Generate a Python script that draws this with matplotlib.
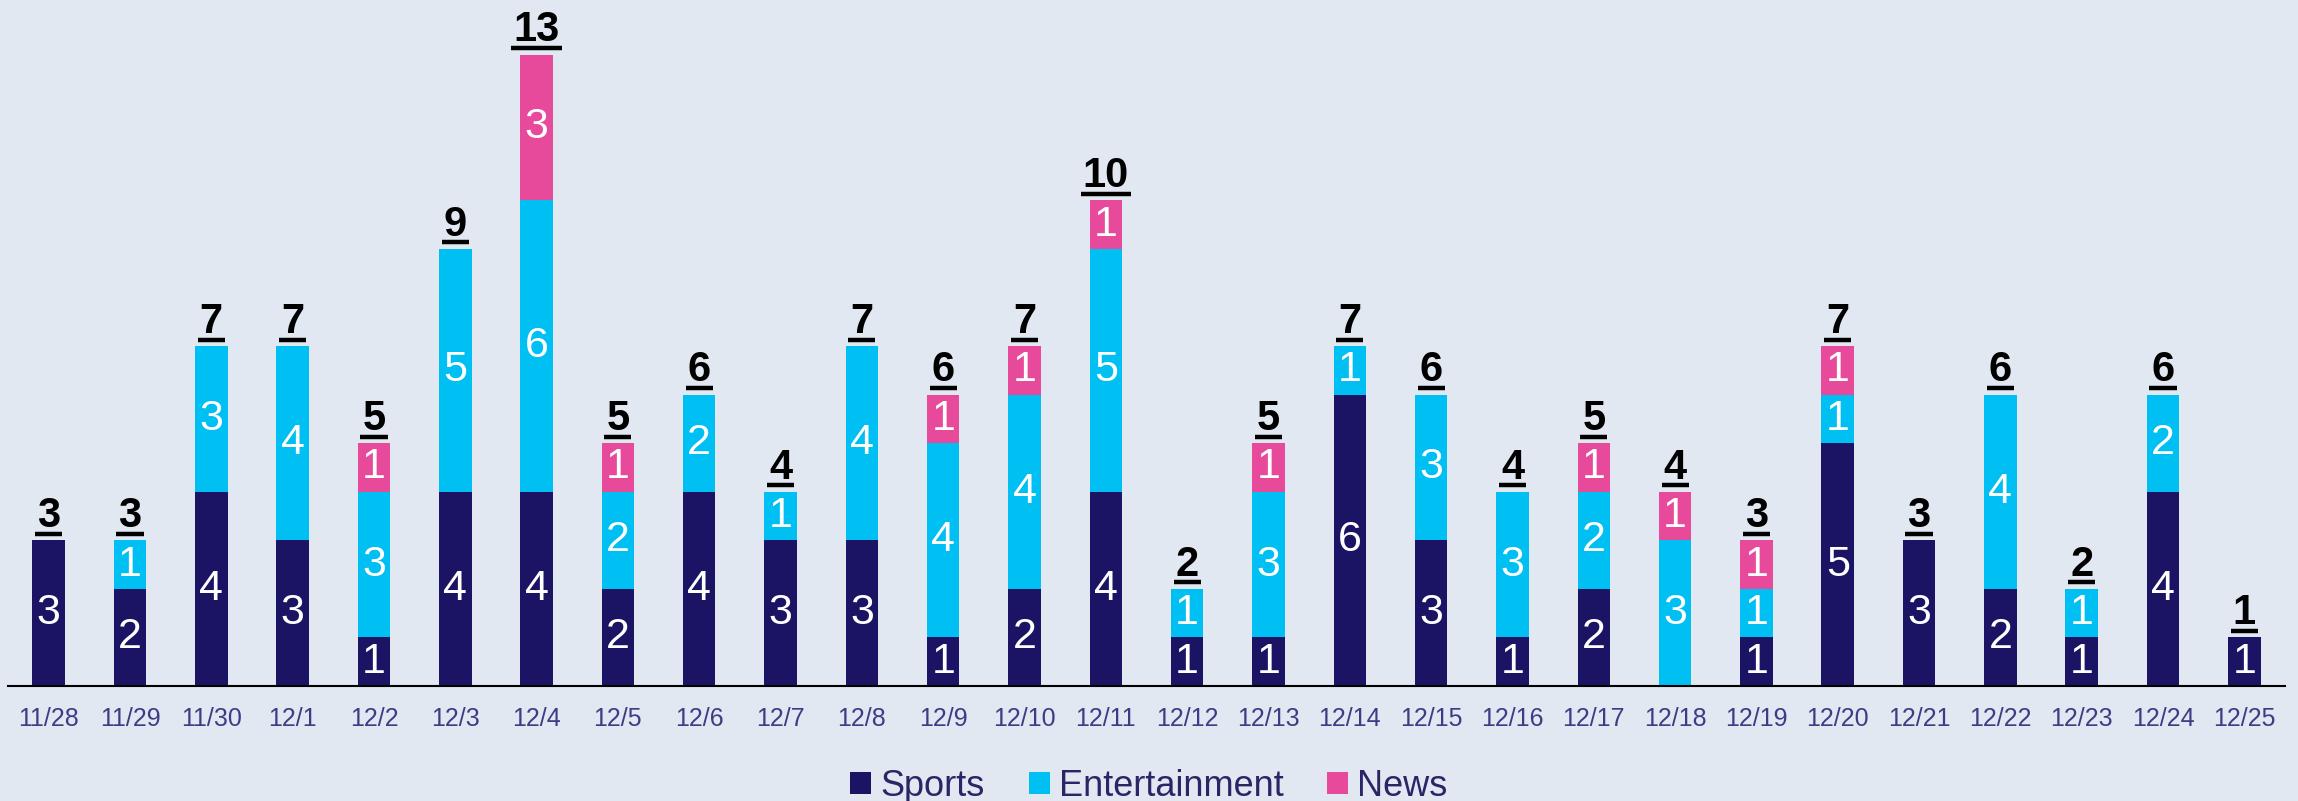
import matplotlib
matplotlib.use("Agg")
import matplotlib.pyplot as plt
from matplotlib.patches import Patch
from matplotlib.lines import Line2D
from matplotlib.transforms import offset_copy
import numpy as np

# Data
dates = ["11/28", "11/29", "11/30", "12/1", "12/2", "12/3", "12/4", "12/5",
         "12/6", "12/7", "12/8", "12/9", "12/10", "12/11", "12/12", "12/13",
         "12/14", "12/15", "12/16", "12/17", "12/18", "12/19", "12/20", "12/21",
         "12/22", "12/23", "12/24", "12/25"]
sports = [3, 2, 4, 3, 1, 4, 4, 2, 4, 3, 3, 1, 2, 4, 1, 1, 6, 3, 1, 2, 0, 1, 5, 3, 2, 1, 4, 1]
entertainment = [0, 1, 3, 4, 3, 5, 6, 2, 2, 1, 4, 4, 4, 5, 1, 3, 1, 3, 3, 2, 3, 1, 1, 0, 4, 1, 2, 0]
news = [0, 0, 0, 0, 1, 0, 3, 1, 0, 0, 0, 1, 1, 1, 0, 1, 0, 0, 0, 1, 1, 1, 1, 0, 0, 0, 0, 0]

series = [("Sports", sports, "#1b1464"),
          ("Entertainment", entertainment, "#00bff3"),
          ("News", news, "#e84a9b")]

bg = "#e1e8f2"
plt.rcParams['font.family'] = ['Liberation Sans', 'DejaVu Sans']

fig = plt.figure(figsize=(22.98, 8.01), dpi=100, facecolor=bg)
ax = fig.add_axes([8 / 2298, 115 / 801, 2277 / 2298, 680 / 801])
ax.set_facecolor(bg)

x = np.arange(len(dates))
bottom = np.zeros(len(dates))
for name, vals, color in series:
    vals = np.array(vals, dtype=float)
    ax.bar(x, vals, 0.4, bottom=bottom, color=color, label=name)
    for xi, b, v in zip(x, bottom, vals):
        if v > 0:
            ax.text(xi, b + v / 2, f"{int(v)}", ha="center", va="center",
                    color="white", fontsize=31)
    bottom += vals

totals = bottom
tlabels = []
for xi, t in zip(x, totals):
    tl = ax.annotate(f"{int(t)}", (xi, t), xytext=(0, 9.5), textcoords="offset points",
                     ha="center", va="baseline", fontsize=30, fontweight="bold",
                     color="black")
    tlabels.append(tl)

ax.set_xlim(-0.5, len(dates) - 0.5)
ax.set_ylim(0, 14)
ax.set_xticks(x)
ax.set_xticklabels(dates, fontsize=18, color="#3d3d85")
ax.tick_params(axis="x", length=0, pad=15)
ax.set_yticks([])
for s in ["top", "right", "left"]:
    ax.spines[s].set_visible(False)
ax.spines["bottom"].set_color("black")
ax.spines["bottom"].set_linewidth(1.5)

# underline the totals
fig.canvas.draw()
renderer = fig.canvas.get_renderer()
px_per_unit = ax.transData.transform((1, 0))[0] - ax.transData.transform((0, 0))[0]
ul_trans = offset_copy(ax.transData, fig=fig, y=6.5 * 72 / 100, units="points")
for xi, t, tl in zip(x, totals, tlabels):
    bb = tl.get_window_extent(renderer)
    half = (bb.width / 2 + 2) / px_per_unit
    ax.add_line(Line2D([xi - half, xi + half], [t, t], color="black",
                       linewidth=3.2, transform=ul_trans, solid_capstyle="butt",
                       clip_on=False))

handles = [Patch(facecolor=c, label=n) for n, _, c in series]
fig.legend(handles=handles, loc="center", bbox_to_anchor=(0.5, 1 - 786 / 801),
           ncol=3, frameon=False, fontsize=26, labelcolor="#2b2566",
           handlelength=0.58, handleheight=0.58, handletextpad=0.25,
           columnspacing=1.22, borderaxespad=0, borderpad=0)

fig.savefig("out.png", dpi=100, facecolor=bg)
